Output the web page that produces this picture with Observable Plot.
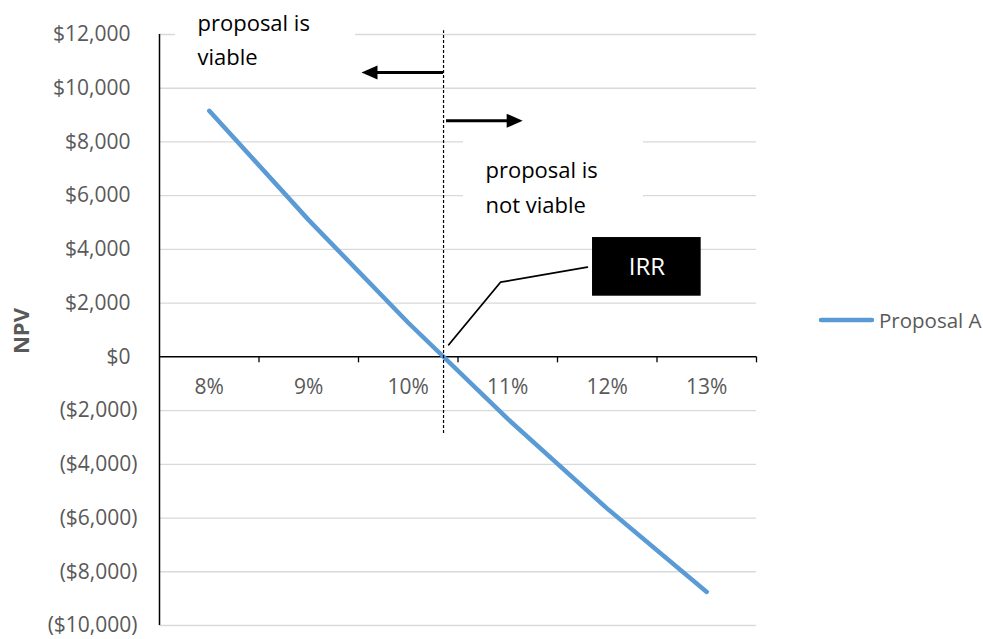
<!DOCTYPE html>
<html>
<head>
<meta charset="utf-8">
<script src="https://cdn.jsdelivr.net/npm/d3@7"></script>
<script src="https://cdn.jsdelivr.net/npm/@observablehq/plot@0.6"></script>
<style>
  html, body { margin: 0; padding: 0; background: #fff; }
  #wrap { position: relative; width: 983px; height: 639px; overflow: hidden; }
  #legend { position: absolute; left: 818px; top: 306px; display: flex; align-items: center;
            font: 20.5px "Open Sans", sans-serif; color: #595959; white-space: nowrap; }
  #legend svg { display: block; margin-right: 4px; }
</style>
</head>
<body>
<div id="wrap"></div>
<script>
// Discount rates (%) and the net present value of Proposal A at each rate
const rates = [8, 9, 10, 11, 12, 13];
const rateLabels = ["8%", "9%", "10%", "11%", "12%", "13%"];
const npvA = [9160, 5090, 1270, -2310, -5650, -8750];
const npvTicks = [12000, 10000, 8000, 6000, 4000, 2000, 0, -2000, -4000, -6000, -8000, -10000];
const seriesName = "Proposal A";
const lineColor = "#5b9bd5";
const labelGray = "#595959";

const rows = rates.map((r, i) => ({rate: r, npv: npvA[i], label: rateLabels[i]}));

// IRR: where the NPV curve crosses zero (linear between neighbouring rates)
const k = npvA.findIndex((v, j) => j > 0 && npvA[j - 1] > 0 && v <= 0);
const irr = rates[k - 1] + npvA[k - 1] / (npvA[k - 1] - npvA[k]) * (rates[k] - rates[k - 1]);

const fmtMoney = v => v < 0 ? `($${d3.format(",")(-v)})` : `$${d3.format(",")(v)}`;

// Filled arrowhead, tip at the origin, pointing left
const arrowHead = {
  draw(ctx) {
    ctx.moveTo(0, 0);
    ctx.lineTo(16, -7);
    ctx.lineTo(16, 7);
    ctx.closePath();
  }
};

const leftArrow = {y: 10590, x1: irr, x2: 9.53};
const rightArrow = {y: 8790, x1: irr + 0.03, x2: 11.15};
const viableBox = {x1: 7.66, x2: 9.47, y1: 10700, y2: 12600};
const notViableBox = {x1: 10.555, x2: 12.364, y1: 4900, y2: 8600};
const irrBox = {x1: 11.852, x2: 12.944, y1: 2258, y2: 4442};
const leader = [{x: 11.80, y: 3337}, {x: 10.927, y: 2779}, {x: 10.407, y: 450}];

const chart = Plot.plot({
  width: 983,
  height: 639,
  marginLeft: 159,
  marginRight: 227,
  marginTop: 34,
  marginBottom: 14,
  x: {domain: [7.5, 13.5], axis: null},
  y: {domain: [-10000, 12000], axis: null},
  style: {fontFamily: "'Open Sans', sans-serif", background: "white", overflow: "visible"},
  marks: [
    // horizontal gridlines
    Plot.ruleY(npvTicks.filter(v => v !== 0), {stroke: "#d9d9d9", strokeWidth: 1.3}),
    // white backing behind the annotation texts
    Plot.rect([viableBox, notViableBox], {x1: "x1", x2: "x2", y1: "y1", y2: "y2", fill: "white"}),
    // value axis line and category axis at zero
    Plot.ruleX([7.5], {y1: -10000, y2: 12000, stroke: "black", strokeWidth: 1.5}),
    Plot.ruleY([0], {stroke: "black", strokeWidth: 1.5}),
    Plot.ruleX(rates.map(r => r + 0.5), {y1: 0, y2: 0, insetBottom: -6, stroke: "black", strokeWidth: 1.3}),
    // category labels
    Plot.text(rows, {x: "rate", y: 0, text: "label", dy: 30, fontSize: 21, fill: labelGray}),
    // value labels (positive ones leave room for the closing parenthesis)
    Plot.text(npvTicks.filter(v => v >= 0), {y: d => d, text: fmtMoney, frameAnchor: "left",
      textAnchor: "end", dx: -29, fontSize: 21, fill: labelGray}),
    Plot.text(npvTicks.filter(v => v < 0), {y: d => d, text: fmtMoney, frameAnchor: "left",
      textAnchor: "end", dx: -22, fontSize: 21, fill: labelGray}),
    // y axis title
    Plot.text(["NPV"], {frameAnchor: "left", y: 960, dx: -138, rotate: -90, textAnchor: "middle",
      fontSize: 22, fontWeight: "bold", fill: labelGray}),
    // NPV profile
    Plot.line(rows, {x: "rate", y: "npv", stroke: lineColor, strokeWidth: 4.5,
      strokeLinecap: "round", strokeLinejoin: "round"}),
    // IRR marker line
    Plot.ruleX([irr], {y1: -2850, y2: 12140, stroke: "black", strokeWidth: 1.2, strokeDasharray: "3,2"}),
    // direction arrows
    Plot.ruleY([leftArrow], {y: "y", x1: "x1", x2: d => d.x2 + 0.12, stroke: "black", strokeWidth: 3}),
    Plot.ruleY([rightArrow], {y: "y", x1: "x1", x2: d => d.x2 - 0.12, stroke: "black", strokeWidth: 3}),
    Plot.dot([leftArrow], {x: "x2", y: "y", symbol: arrowHead, fill: "black", stroke: "none"}),
    Plot.dot([rightArrow], {x: "x2", y: "y", symbol: arrowHead, rotate: 180, fill: "black", stroke: "none"}),
    // annotation texts
    Plot.text(["proposal is\nviable"], {x: 7.882, y: 11920, textAnchor: "start", fontSize: 22,
      lineHeight: 1.55, fill: "black"}),
    Plot.text(["proposal is\nnot viable"], {x: 10.776, y: 6420, textAnchor: "start", fontSize: 22,
      lineHeight: 1.59, fill: "black"}),
    // IRR callout
    Plot.line(leader, {x: "x", y: "y", stroke: "black", strokeWidth: 1.8}),
    Plot.rect([irrBox], {x1: "x1", x2: "x2", y1: "y1", y2: "y2", fill: "black"}),
    Plot.text(["IRR"], {x: (irrBox.x1 + irrBox.x2) / 2, y: (irrBox.y1 + irrBox.y2) / 2,
      fontSize: 24, fill: "white"})
  ]
});

const wrap = document.getElementById("wrap");
wrap.appendChild(chart);

// series legend on the right
const legend = document.createElement("div");
legend.id = "legend";
legend.innerHTML = `<svg width="57" height="10"><line x1="3" y1="5" x2="54" y2="5" stroke="${lineColor}" stroke-width="4.5" stroke-linecap="round"/></svg><span>${seriesName}</span>`;
wrap.appendChild(legend);
</script>
</body>
</html>
